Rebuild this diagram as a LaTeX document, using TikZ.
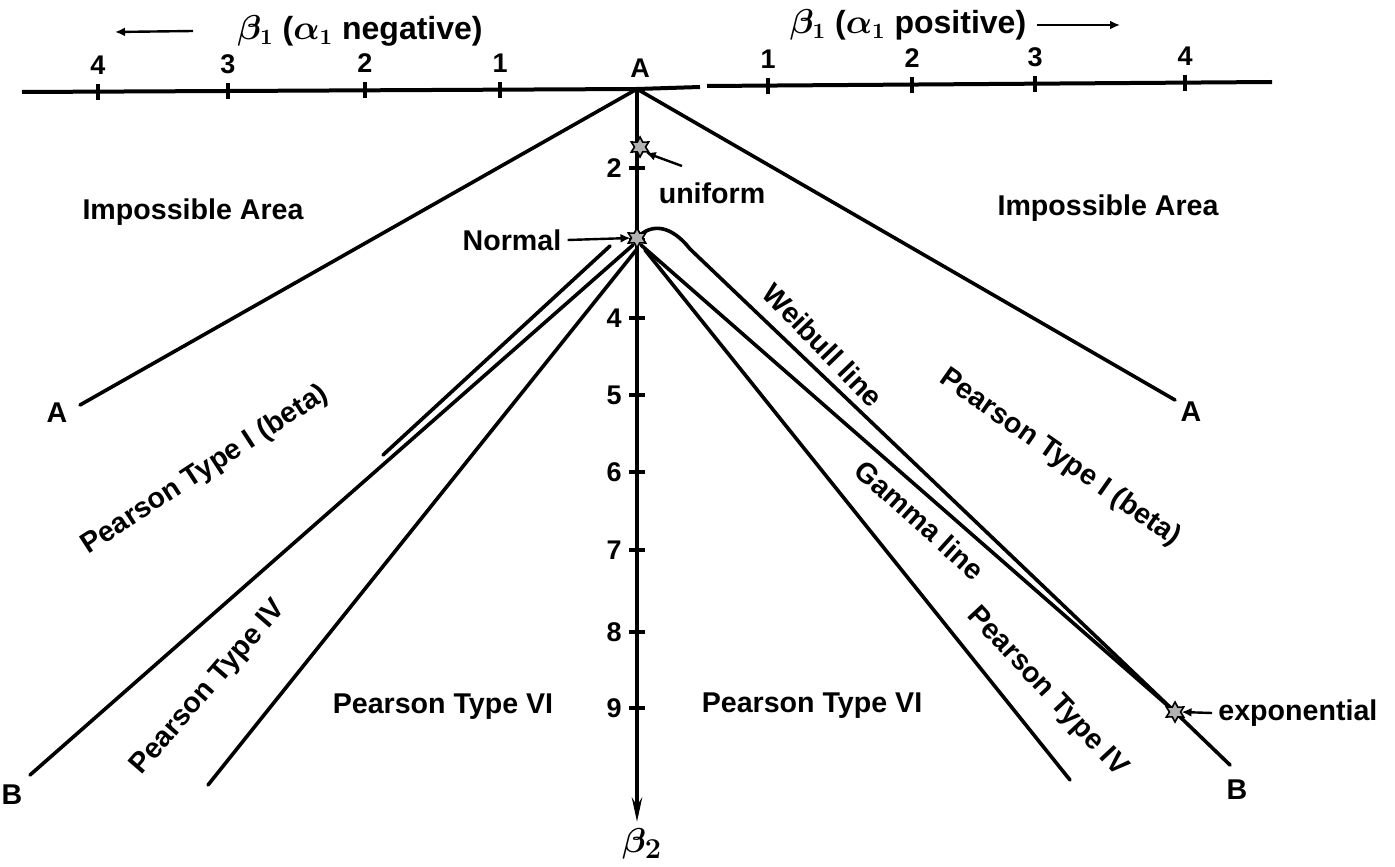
\documentclass[tikz,border=0pt]{standalone}
\usepackage{amsmath}
\usepackage{fontspec}
\setmainfont{Liberation Sans}
\usetikzlibrary{arrows.meta,shapes.geometric,positioning}

\begin{document}
\begin{tikzpicture}[
  x=0.5pt, y=-0.5pt,
  chartline/.style={line width=1.8pt, line cap=round},
  axisline/.style={line width=2pt},
  regionlabel/.style={font=\bfseries\fontsize{14.3}{17}\selectfont, inner sep=0pt},
  ticklabel/.style={font=\bfseries\fontsize{13.5}{16}\selectfont, inner sep=0pt},
  headlabel/.style={font=\bfseries\boldmath\fontsize{16}{19}\selectfont, inner sep=0pt},
  pointmark/.style={star, star points=6, star point ratio=1.8, draw, fill=black!30, line width=0.8pt, minimum size=10pt, inner sep=0pt},
  pointarrow/.style={-{Latex[length=5pt,width=4.5pt]}, line width=1.2pt}
]
\useasboundingbox (0,0) rectangle (1395,866);
\coordinate (A) at (637,89);
\coordinate (N) at (637,238);
\coordinate (E) at (1175,712);
\coordinate (axleft) at (22,92);
\coordinate (axgapl) at (700,87);
\coordinate (axgapr) at (707,86);
\coordinate (axright) at (1272,82);
\coordinate (axbottom) at (637,822);
\coordinate (Aleft) at (80,405);
\coordinate (Aright) at (1175,400);
\coordinate (Bleft) at (30,775);
\coordinate (Bright) at (1230,765);
\coordinate (NbetaL) at (610,246);
\coordinate (betaL) at (383,455);
\coordinate (NgamL) at (633,245);
\coordinate (NsixL) at (637,249);
\coordinate (sixL) at (208,785);
\coordinate (NgamR) at (641,245);
\coordinate (NsixR) at (645,250);
\coordinate (sixR) at (1070,780);
\coordinate (weibR) at (690,249);

\draw[axisline] (axleft) -- (A) -- (axgapl);
\draw[axisline] (axgapr) -- (axright);
\foreach \x/\y/\n in {98/92/4, 228/91/3, 365/90/2, 500/90/1, 768/86/1, 912/85/2, 1035/84/3, 1185/83/4} {
  \draw[axisline] (\x,\y-8) -- (\x,\y+8);
  \node[ticklabel] (hx-\x) at (\x,\y-27) {\n};
}
\node[ticklabel] (topA) at (640,68) {A};
\draw[axisline, -{Stealth[length=12pt,width=5pt]}] (A) -- (axbottom);
\foreach \y/\n in {168/2, 318/4, 395/5, 472/6, 550/7, 632/8, 708/9} {
  \draw[axisline] (629,\y) -- (645,\y);
  \node[ticklabel, anchor=east] (vy-\n) at (622,\y) {\n};
}
\draw[axisline] (629,240) -- (645,240);
\node[font=\boldmath\fontsize{19}{22}\selectfont, inner sep=0pt, anchor=north] (beta2) at (642,828) {$\beta_{\mathbf{2}}$};

\draw[chartline] (A) -- (Aleft);
\draw[chartline] (A) -- (Aright);
\draw[chartline] (NbetaL) -- (betaL);
\draw[chartline] (NgamL) -- (Bleft);
\draw[chartline] (NsixL) -- (sixL);
\draw[chartline] (N) .. controls (652,222) and (672,226) .. (weibR) -- (E);
\draw[chartline] (NgamR) -- (E) -- (Bright);
\draw[chartline] (NsixR) -- (sixR);

\node[regionlabel] (lAleft) at (57,413) {A};
\node[regionlabel] (lAright) at (1191,412) {A};
\node[regionlabel] (lBleft) at (12,795) {B};
\node[regionlabel] (lBright) at (1237,790) {B};

\node[pointmark] (starU) at (640,147) {};
\node[pointmark] (starN) at (N) {};
\node[pointmark] (starE) at (E) {};
\node[regionlabel] (luniform) at (712,193) {uniform};
\node[regionlabel] (lnormal) at (512,240) {Normal};
\node[regionlabel, anchor=west] (lexp) at (1218,713) {exponential};
\coordinate (uarrow) at (682,166);
\draw[pointarrow] (uarrow) -- (starU.south east);
\draw[pointarrow] ([xshift=3pt]lnormal.east) -- (starN.west);
\draw[pointarrow] ([xshift=-3pt]lexp.west) -- (starE.east);

\node[regionlabel] (impL) at (193,212) {Impossible Area};
\node[regionlabel] (impR) at (1108,208) {Impossible Area};
\node[regionlabel, rotate=-46] (lweibull) at (823,345) {Weibull line};
\node[regionlabel, rotate=-42] (lgamma) at (920,520) {Gamma line};
\node[regionlabel, rotate=-35] (lbetaR) at (1060,458) {Pearson Type I (beta)};
\node[regionlabel, rotate=-47] (lfourR) at (1047,692) {Pearson Type IV};
\node[regionlabel] (lsixR) at (812,706) {Pearson Type VI};
\node[regionlabel] (lsixL) at (443,707) {Pearson Type VI};
\node[regionlabel, rotate=49] (lfourL) at (209,688) {Pearson Type IV};
\node[regionlabel, rotate=33] (lbetaL) at (205,470) {Pearson Type I (beta)};

\node[headlabel] (lneg) at (360,31) {$\beta_1$ ($\alpha_1$ negative)};
\node[headlabel] (lpos) at (908,25) {$\beta_1$ ($\alpha_1$ positive)};
\coordinate (negtip) at (115,32);
\coordinate (postip) at (1120,25);
\draw[pointarrow] ([xshift=-22pt]lneg.west) -- (negtip);
\draw[pointarrow] ([xshift=5pt]lpos.east) -- (postip);
\end{tikzpicture}
\end{document}
